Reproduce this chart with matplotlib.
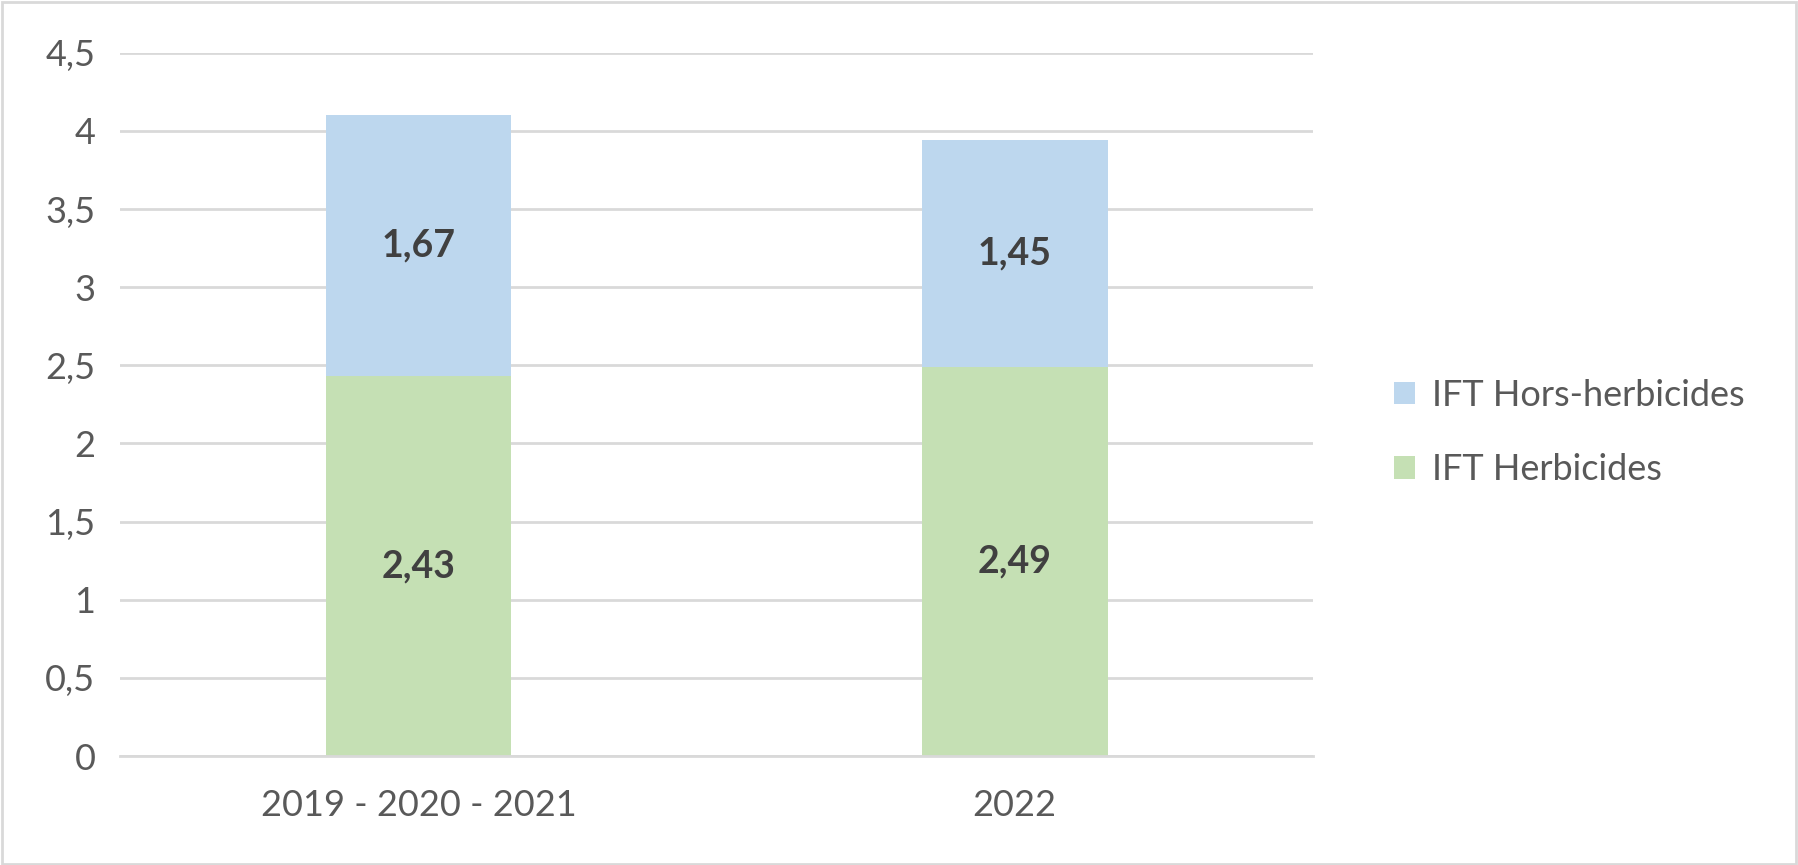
import matplotlib.pyplot as plt
from matplotlib.patches import Rectangle

# data
periods = ["2019 - 2020 - 2021", "2022"]
ift_herbicides = [2.43, 2.49]
ift_hors_herbicides = [1.67, 1.45]
y_ticks = [0, 0.5, 1, 1.5, 2, 2.5, 3, 3.5, 4, 4.5]

GREEN = "#C5E0B4"
BLUE = "#BDD7EE"
GRID = "#D9D9D9"
TEXT = "#595959"
LABEL = "#404040"

plt.rcParams["font.family"] = ["Lato", "DejaVu Sans"]

fig = plt.figure(figsize=(17.98, 8.65), dpi=100)
ax = fig.add_axes([0.067, 0.126, 0.663, 0.813])

x = list(range(len(periods)))
bars_h = ax.bar(x, ift_herbicides, width=0.312, color=GREEN, label="IFT Herbicides", zorder=2)
bars_hh = ax.bar(x, ift_hors_herbicides, width=0.312, bottom=ift_herbicides, color=BLUE,
                 label="IFT Hors-herbicides", zorder=2)

# values inside the segments, french decimal comma
for bars, vals in ((bars_h, ift_herbicides), (bars_hh, ift_hors_herbicides)):
    ax.bar_label(bars, labels=[f"{v:.2f}".replace(".", ",") for v in vals],
                 label_type="center", fontsize=27, fontweight="bold", color=LABEL)

ax.set_xlim(-0.5, 1.5)
ax.set_ylim(0, 4.5)
ax.set_yticks(y_ticks)
ax.set_yticklabels([f"{t:g}".replace(".", ",") for t in y_ticks])
ax.set_xticks(x)
ax.set_xticklabels(periods)
ax.tick_params(axis="both", length=0, labelsize=26, colors=TEXT)
ax.tick_params(axis="x", pad=24)
ax.tick_params(axis="y", pad=18)

ax.grid(axis="y", color=GRID, linewidth=2, zorder=0)
ax.set_axisbelow(True)
for side in ("top", "right", "left"):
    ax.spines[side].set_visible(False)
ax.spines["bottom"].set_color(GRID)
ax.spines["bottom"].set_linewidth(2)

handles, labels = ax.get_legend_handles_labels()
fig.legend(handles[::-1], labels[::-1], loc="center left", bbox_to_anchor=(0.757, 0.5),
           frameon=False, fontsize=26, labelcolor=TEXT, handlelength=0.6, handleheight=0.6,
           handletextpad=0.45, labelspacing=1.15)

# light grey frame around the whole chart
fig.patches.append(Rectangle((0.001, 0.001), 0.998, 0.997, transform=fig.transFigure,
                             fill=False, edgecolor=GRID, linewidth=2))

fig.savefig("out.png", dpi=100)
